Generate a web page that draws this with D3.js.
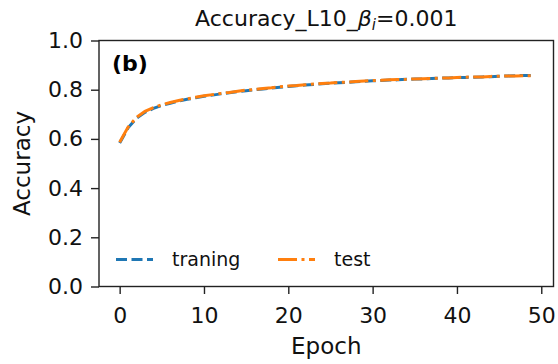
<!DOCTYPE html>
<html>
<head>
<meta charset="utf-8">
<script src="https://cdn.jsdelivr.net/npm/d3@7"></script>
<style>
  body { margin: 0; background: #fff; }
  svg { font-family: "DejaVu Sans", sans-serif; }
</style>
</head>
<body>
<div id="chart"></div>
<script>
// epochs and accuracy
const epochs = d3.range(0, 50);
const trainAcc = [0.583, 0.645, 0.684, 0.708, 0.724, 0.736, 0.745, 0.754, 0.761, 0.767,
  0.773, 0.778, 0.783, 0.788, 0.792, 0.796, 0.800, 0.803, 0.807, 0.810,
  0.813, 0.816, 0.819, 0.821, 0.824, 0.826, 0.828, 0.830, 0.832, 0.834,
  0.836, 0.837, 0.839, 0.840, 0.842, 0.843, 0.844, 0.846, 0.847, 0.848,
  0.849, 0.850, 0.851, 0.852, 0.853, 0.855, 0.856, 0.857, 0.858, 0.857];
const testAcc = [0.586, 0.648, 0.688, 0.712, 0.727, 0.739, 0.748, 0.756, 0.763, 0.769,
  0.775, 0.780, 0.785, 0.789, 0.794, 0.798, 0.801, 0.805, 0.808, 0.812,
  0.815, 0.817, 0.820, 0.823, 0.825, 0.827, 0.830, 0.831, 0.833, 0.835,
  0.837, 0.838, 0.840, 0.841, 0.842, 0.844, 0.845, 0.846, 0.847, 0.848,
  0.850, 0.851, 0.852, 0.852, 0.854, 0.855, 0.856, 0.856, 0.857, 0.856];
const xTicks = [0, 10, 20, 30, 40, 50];
const yTicks = [0, 0.2, 0.4, 0.6, 0.8, 1.0];
const seriesNames = ["traning", "test"];

const W = 558, H = 364;
const margin = {top: 40.5, right: 4.5, bottom: 77.5, left: 99};
const width = W - margin.left - margin.right;
const height = H - margin.top - margin.bottom;

const svg = d3.select('#chart').append('svg')
  .attr('width', W)
  .attr('height', H);

const g = svg.append('g')
  .attr('transform', `translate(${margin.left},${margin.top})`);

const x = d3.scaleLinear().domain([-2.45, 51.45]).range([0, width]);
const y = d3.scaleLinear().domain([0, 1]).range([height, 0]);

// axes
const xAxis = g.append('g')
  .attr('transform', `translate(0,${height})`)
  .call(d3.axisBottom(x).tickValues(xTicks).tickSize(7.5).tickPadding(13).tickFormat(d3.format('d')));
const yAxis = g.append('g')
  .call(d3.axisLeft(y).tickValues(yTicks).tickSize(8).tickPadding(8).tickFormat(d3.format('.1f')));

[xAxis, yAxis].forEach(a => {
  a.select('.domain').remove();
  a.selectAll('line').attr('stroke', '#222').attr('stroke-width', 1.4);
  a.selectAll('text').attr('font-size', 22).attr('fill', '#111')
    .attr('font-family', '"DejaVu Sans", sans-serif');
});

// frame
g.append('rect')
  .attr('width', width)
  .attr('height', height)
  .attr('fill', 'none')
  .attr('stroke', '#222')
  .attr('stroke-width', 1.4);

const line = d3.line()
  .x((d, i) => x(epochs[i]))
  .y(d => y(d));

g.append('path')
  .datum(trainAcc)
  .attr('fill', 'none')
  .attr('stroke', '#1f77b4')
  .attr('stroke-width', 3)
  .attr('stroke-dasharray', '11,4.5')
  .attr('d', line);

g.append('path')
  .datum(testAcc)
  .attr('fill', 'none')
  .attr('stroke', '#ff7f0e')
  .attr('stroke-width', 3)
  .attr('stroke-dasharray', '19,4.5,3,4.5')
  .attr('d', line);

// panel label
g.append('text')
  .attr('x', 13)
  .attr('y', 30)
  .attr('font-size', 22)
  .attr('font-weight', 'bold')
  .text('(b)');

// legend
const legend = g.append('g').attr('transform', `translate(0, ${y(0.11)})`);
const legendX = [17, 179];
const legendColors = ['#1f77b4', '#ff7f0e'];
const legendDash = ['11,4.5', '19,4.5,3,4.5'];
seriesNames.forEach((name, i) => {
  legend.append('line')
    .attr('x1', legendX[i]).attr('x2', legendX[i] + 37)
    .attr('y1', 0).attr('y2', 0)
    .attr('stroke', legendColors[i])
    .attr('stroke-width', 3)
    .attr('stroke-dasharray', legendDash[i]);
  legend.append('text')
    .attr('x', legendX[i] + 56)
    .attr('y', 7)
    .attr('font-size', 19)
    .attr('fill', '#111')
    .text(name);
});

// axis labels and title
svg.append('text')
  .attr('x', margin.left + width / 2)
  .attr('y', 354)
  .attr('text-anchor', 'middle')
  .attr('font-size', 23)
  .attr('fill', '#111')
  .text('Epoch');

svg.append('text')
  .attr('transform', `translate(30,${margin.top + height / 2}) rotate(-90)`)
  .attr('text-anchor', 'middle')
  .attr('font-size', 23)
  .attr('fill', '#111')
  .text('Accuracy');

const title = svg.append('text')
  .attr('x', margin.left + width / 2)
  .attr('y', 26)
  .attr('text-anchor', 'middle')
  .attr('font-size', 22)
  .attr('fill', '#111');
title.append('tspan').text('Accuracy_L10_');
title.append('tspan').attr('font-style', 'italic').text('β');
title.append('tspan').attr('font-style', 'italic').attr('font-size', 15).attr('dy', 4).text('i');
title.append('tspan').attr('dy', -4).text('=0.001');
</script>
</body>
</html>
